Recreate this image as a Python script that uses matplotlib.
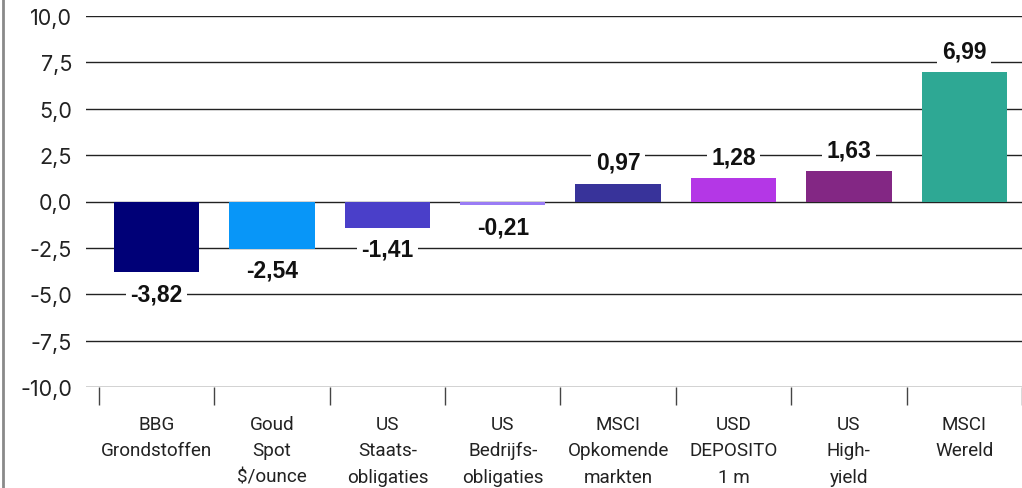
import matplotlib
matplotlib.use("Agg")
import matplotlib.pyplot as plt
from matplotlib.lines import Line2D

categories = [
    "BBG\nGrondstoffen",
    "Goud\nSpot\n$/ounce",
    "US\nStaats-\nobligaties",
    "US\nBedrijfs-\nobligaties",
    "MSCI\nOpkomende\nmarkten",
    "USD\nDEPOSITO\n1 m",
    "US\nHigh-\nyield",
    "MSCI\nWereld",
]
values = [-3.82, -2.54, -1.41, -0.21, 0.97, 1.28, 1.63, 6.99]
colors = ["#000077", "#0896f8", "#4a3fc9", "#9a7cf5",
          "#38339a", "#b437e6", "#832784", "#2ea894"]
yticks = [10.0, 7.5, 5.0, 2.5, 0.0, -2.5, -5.0, -7.5, -10.0]


def fmt(v):
    return f"{v:.2f}".replace(".", ",")


fig = plt.figure(figsize=(10.22, 4.89), dpi=100)
ax = fig.add_axes([86 / 1022, 1 - 388 / 489, 1 - 86 / 1022, (388 - 17) / 489])

x = list(range(len(categories)))
ax.bar(x, values, width=0.74, color=colors, zorder=3)

ax.set_ylim(-10, 10)
ax.set_xlim(-0.612, 7.457)

# horizontal grid
for t in yticks:
    ax.axhline(t, color="#222222", lw=1.0, zorder=1)

ax.set_yticks(yticks)
ax.set_yticklabels([f"{t:.1f}".replace(".", ",") for t in yticks],
                   family="Inter", fontsize=15.5, color="#222222")
ax.tick_params(axis="y", length=0, pad=10)

# category ticks sit on the boundaries between bars
ax.set_xticks([i - 0.5 for i in range(len(categories) + 1)], minor=False)
ax.set_xticklabels([])
ax.tick_params(axis="x", which="major", length=13, width=1, color="#444444")
ax.set_xticks(x, minor=True)
ax.set_xticklabels(categories, minor=True, family="Roboto", fontsize=13.6,
                   color="#222222", linespacing=1.6, va="top")
ax.tick_params(axis="x", which="minor", length=0, pad=20)

for s in ax.spines.values():
    s.set_visible(False)

# value labels with white box over gridlines
for xi, v in zip(x, values):
    offset = 7 if v >= 0 else -7
    ax.annotate(fmt(v), (xi, v), xytext=(0, offset), textcoords="offset points",
                ha="center", va="bottom" if v >= 0 else "top",
                family="Liberation Sans", fontweight="bold", fontsize=16.5,
                color="#111111", zorder=2,
                bbox=dict(boxstyle="square,pad=0.2", fc="white", ec="none"))

# thin frame line on the left edge
fig.add_artist(Line2D([3 / 1022, 3 / 1022], [0, 1], color="#8a8a8a", lw=2,
                      transform=fig.transFigure))

fig.savefig("out.png", dpi=100)
